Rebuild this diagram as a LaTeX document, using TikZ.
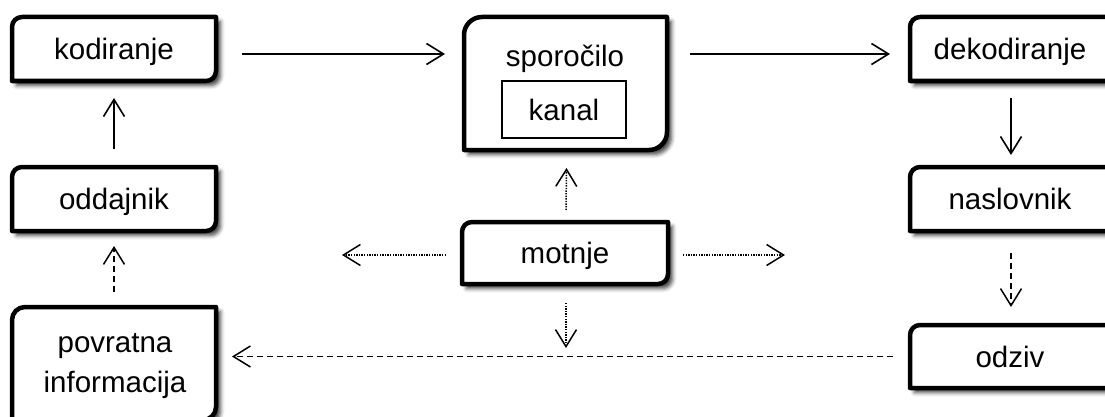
\documentclass[tikz,border=0pt]{standalone}
\usepackage{fontspec}
\setmainfont{Liberation Sans}
\usetikzlibrary{arrows.meta,shadows.blur}
\pgfdeclarelayer{background}
\pgfsetlayers{background,main}

% Outline with rounded top-left and bottom-right corners, drawn around a named node
\newcommand\notchbox[2]{%
  \path[boxline] (#1.south west) -- ([yshift=-#2]#1.north west)
    arc[start angle=180,end angle=90,radius=#2] -- (#1.north east)
    -- ([yshift=#2]#1.south east)
    arc[start angle=0,end angle=-90,radius=#2] -- cycle;}

\tikzset{
  lbl/.style={font=\fontsize{29.5}{40}\selectfont, text height=21pt, text depth=0pt,
    inner sep=0pt, outer sep=0pt, rectangle, align=center},
  boxline/.style={draw=black, line width=4.5pt, fill=white, line join=round,
    blur shadow={shadow xshift=4.5pt, shadow yshift=-4.5pt, shadow blur radius=4pt, shadow opacity=75}},
  chan/.style={lbl, draw=black, line width=1.4pt, minimum width=124pt, minimum height=57pt},
  tip/.style={-{Straight Barb[length=17pt,width=21pt]}},
  flow/.style={tip, line width=1.6pt},
  back/.style={tip, line width=1.5pt, dash pattern=on 6pt off 4pt},
  noise/.style={tip, line width=1.5pt, dash pattern=on 1.4pt off 1.2pt},
}

\begin{document}
\begin{tikzpicture}[x=1pt,y=1pt]
\useasboundingbox (0,0) rectangle (1105,416);

% sender side
\node[lbl, minimum width=204pt, minimum height=64pt] (kod) at (114,367) {kodiranje};
\node[lbl, minimum width=204pt, minimum height=64pt] (odd) at (114,217) {oddajnik};
\node[lbl, minimum width=204pt, minimum height=113pt] (pov) at (114,52.5) {};
\node[lbl] (povtxt) at (115,34) {povratna\\informacija};

% message and channel
\node[lbl, minimum width=203pt, minimum height=133pt] (spo) at (565.5,332.5) {};
\node[lbl] (spotxt) at (565,360) {sporočilo};
\node[chan] (kanal) at (564,306.5) {kanal};

% noise
\node[lbl, minimum width=206pt, minimum height=62pt] (mot) at (565,163) {motnje};

% receiver side
\node[lbl, minimum width=208pt, minimum height=64pt] (dek) at (1014,367) {\hspace*{-8pt}dekodiranje};
\node[lbl, minimum width=208pt, minimum height=64pt] (nas) at (1014,217) {\hspace*{-8pt}naslovnik};
\node[lbl, minimum width=208pt, minimum height=63pt] (odz) at (1014,59.5) {\hspace*{-8pt}odziv};

\begin{pgfonlayer}{background}
  \notchbox{kod}{10pt}
  \notchbox{odd}{10pt}
  \notchbox{pov}{13pt}
  \notchbox{spo}{18pt}
  \notchbox{mot}{10pt}
  \notchbox{dek}{10pt}
  \notchbox{nas}{10pt}
  \notchbox{odz}{10pt}
\end{pgfonlayer}

% free ends of the noise arrows
\coordinate (mL) at (342,161);
\coordinate (mR) at (785,161);
\coordinate (mD) at (566,68);

% main flow
\draw[flow] ([shift={(26pt,-5pt)}]kod.east) -- ([shift={(-19pt,-5pt)}]kod.east -| spo.west);
\draw[flow] ([shift={(23pt,-5pt)}]spo.east |- kod.east) -- ([shift={(-20pt,-5pt)}]dek.west);
\draw[flow] ([yshift=18pt]odd.north) -- ([yshift=-17pt]kod.south);
\draw[flow] ([shift={(-3pt,-17pt)}]dek.south) -- ([shift={(-3pt,12pt)}]nas.north);

% feedback loop
\draw[back] ([shift={(-3pt,-22pt)}]nas.south) -- ([shift={(-3pt,18pt)}]odz.north);
\draw[back] ([xshift=-17pt]odz.west) -- ([xshift=16pt]odz.west -| pov.east);
\draw[back] ([yshift=15pt]pov.north) -- ([yshift=-15pt]odd.south);

% noise acting on the channel
\draw[noise] ([shift={(1pt,12pt)}]mot.north) -- ([shift={(1pt,-18pt)}]spo.south);
\draw[noise] ([shift={(-16pt,-2pt)}]mot.west) -- (mL);
\draw[noise] ([shift={(15pt,-2pt)}]mot.east) -- (mR);
\draw[noise] ([shift={(1pt,-19pt)}]mot.south) -- (mD);
\end{tikzpicture}
\end{document}
